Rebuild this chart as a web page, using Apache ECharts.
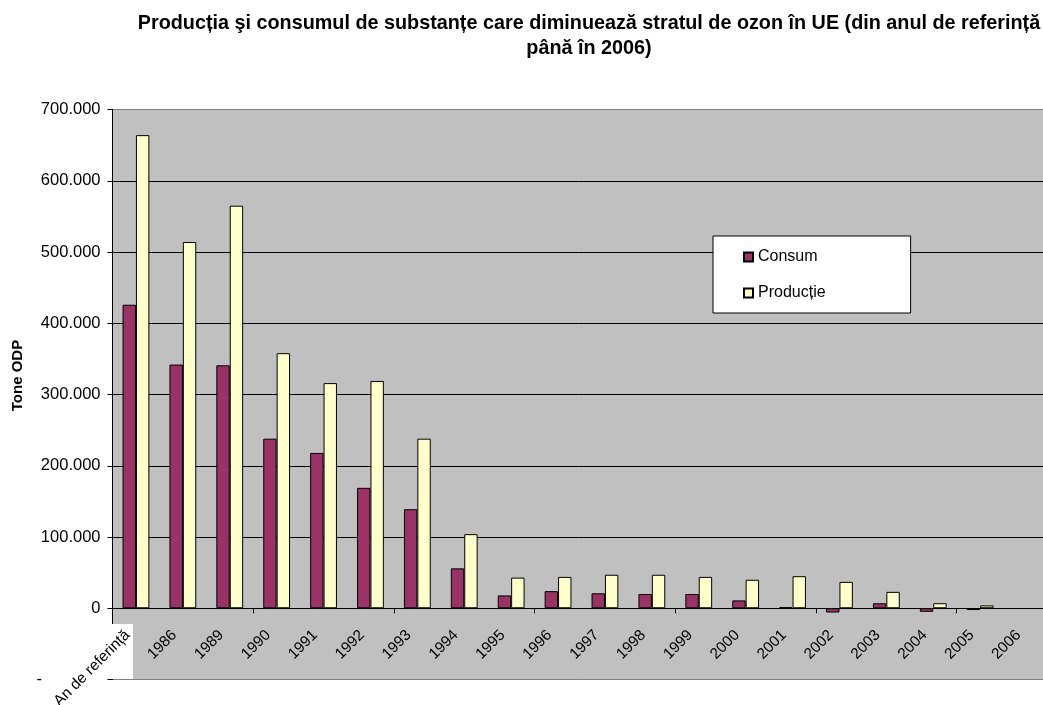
<!DOCTYPE html>
<html>
<head>
<meta charset="utf-8">
<script src="https://cdn.jsdelivr.net/npm/echarts@6/dist/echarts.min.js"></script>
<style>
  html, body { margin: 0; padding: 0; background: #ffffff; }
  #chart { width: 1043px; height: 705px; }
</style>
</head>
<body>
<div id="chart"></div>
<script>
const titleText = 'Producția şi consumul de substanțe care diminuează stratul de ozon în UE (din anul de referință\npână în 2006)';
const categories = ['An de referință', '1986', '1989', '1990', '1991', '1992', '1993', '1994', '1995', '1996',
  '1997', '1998', '1999', '2000', '2001', '2002', '2003', '2004', '2005', '2006'];
const consum = [426000, 342000, 341000, 238000, 218000, 169000, 139000, 56000, 18000, 24000,
  21000, 20000, 20000, 11000, 1500, -6000, 7000, -5000, -2500, null];
const productie = [664000, 514000, 565000, 358000, 316000, 319000, 238000, 104000, 43000, 44000,
  47000, 47000, 44000, 40000, 45000, 37000, 23000, 7000, 4000, null];
const seriesNames = ['Consum', 'Producție'];
const yAxisName = 'Tone ODP';

const FONT = '"Liberation Sans", Arial, sans-serif';
const Y_MIN = -100000, Y_MAX = 700000;
const GRID_TOP = 109.5, GRID_BOTTOM_PX = 679.5, H = 705;
const zeroY = GRID_TOP + (Y_MAX / (Y_MAX - Y_MIN)) * (GRID_BOTTOM_PX - GRID_TOP);

function fmtNum(v) {
  if (v < 0) return '{m|-}';
  return String(v).replace(/\B(?=(\d{3})+(?!\d))/g, '.');
}

const chart = echarts.init(document.getElementById('chart'));
chart.setOption({
  animation: false,
  backgroundColor: '#ffffff',
  textStyle: { fontFamily: FONT },
  title: {
    text: titleText,
    left: 589,
    top: 11,
    textAlign: 'center',
    padding: 0,
    textStyle: { fontFamily: FONT, fontSize: 19.8, fontWeight: 'bold', color: '#000', lineHeight: 25 }
  },
  legend: {
    orient: 'vertical',
    left: 713,
    top: 236,
    padding: [13, 85, 12, 30],
    itemGap: 20,
    itemWidth: 9,
    itemHeight: 9,
    backgroundColor: '#ffffff',
    borderColor: '#000000',
    borderWidth: 1,
    borderRadius: 0,
    icon: 'rect',
    textStyle: { fontFamily: FONT, fontSize: 16, color: '#000' },
    data: seriesNames
  },
  grid: [{
    left: 112.5,
    top: GRID_TOP,
    width: 938,
    bottom: H - GRID_BOTTOM_PX,
    show: true,
    backgroundColor: '#C0C0C0',
    borderColor: '#808080',
    borderWidth: 1,
    containLabel: false,
    outerBoundsMode: 'none'
  }, {
    left: 112.5,
    top: GRID_TOP,
    width: 938,
    bottom: H - zeroY,
    show: false,
    containLabel: false,
    outerBoundsMode: 'none'
  }],
  xAxis: [{
    type: 'category',
    gridIndex: 0,
    data: categories,
    z: 5,
    axisLine: { onZero: true, lineStyle: { color: '#000', width: 1 } },
    axisTick: { show: true, length: 5, lineStyle: { color: '#000' } },
    axisLabel: { show: false },
    splitLine: { show: false }
  }, {
    type: 'category',
    gridIndex: 1,
    data: categories,
    z: 6,
    axisLine: { show: false },
    axisTick: { show: false },
    axisLabel: { rotate: 45, interval: 0, margin: 16, padding: [0, 12, 0, 0], color: '#000', fontSize: 15.3, fontFamily: FONT },
    splitLine: { show: false }
  }],
  yAxis: [{
    type: 'value',
    gridIndex: 0,
    min: Y_MIN,
    max: Y_MAX,
    interval: 100000,
    z: 1,
    name: yAxisName,
    nameLocation: 'middle',
    nameGap: 86,
    nameRotate: 90,
    nameTextStyle: { fontFamily: FONT, fontSize: 15, fontWeight: 'bold', color: '#000', padding: [0, 0, 0, 38] },
    axisLine: { show: true, lineStyle: { color: '#000', width: 1 } },
    axisTick: { show: true, length: 5, lineStyle: { color: '#000' } },
    axisLabel: {
      color: '#000', fontSize: 16.5, fontFamily: FONT, margin: 12,
      formatter: fmtNum,
      rich: { m: { width: 64, align: 'left', fontSize: 16.5, fontFamily: FONT, color: '#000' } }
    },
    splitLine: { show: true, showMinLine: false, showMaxLine: false, lineStyle: { color: '#000', width: 1 } }
  }, {
    type: 'value',
    gridIndex: 1,
    min: 0,
    max: Y_MAX,
    show: false
  }],
  graphic: [{
    type: 'rect',
    z: 3,
    shape: { x: 110, y: 624, width: 23, height: 55 },
    style: { fill: '#ffffff' }
  }],
  series: [
    {
      name: seriesNames[0],
      type: 'bar',
      xAxisIndex: 0,
      yAxisIndex: 0,
      data: consum,
      barWidth: 13.4,
      barGap: '0%',
      z: 4,
      itemStyle: { color: '#993366', borderColor: '#000', borderWidth: 1 }
    },
    {
      name: seriesNames[1],
      type: 'bar',
      xAxisIndex: 0,
      yAxisIndex: 0,
      data: productie,
      barWidth: 13.4,
      barGap: '0%',
      z: 4,
      itemStyle: { color: '#FFFFCC', borderColor: '#000', borderWidth: 1 }
    }
  ]
});
</script>
</body>
</html>
